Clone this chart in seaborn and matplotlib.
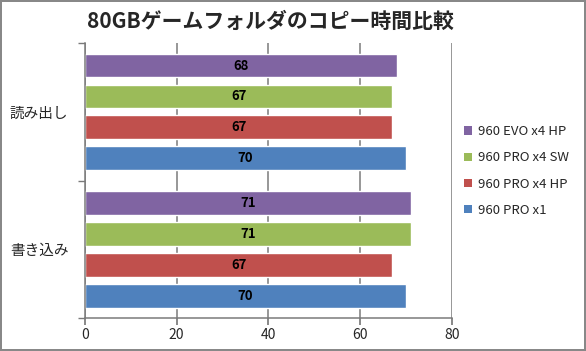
import matplotlib
matplotlib.use("Agg")
import matplotlib.pyplot as plt
import seaborn as sns
import pandas as pd
from matplotlib.patches import Patch

categories = ["読み出し", "書き込み"]
series = ["960 EVO x4 HP", "960 PRO x4 SW", "960 PRO x4 HP", "960 PRO x1"]
values = {
    "960 EVO x4 HP": [68, 71],
    "960 PRO x4 SW": [67, 71],
    "960 PRO x4 HP": [67, 67],
    "960 PRO x1": [70, 70],
}
colors = ["#8064A2", "#9BBB59", "#C0504D", "#4F81BD"]
xticks = [0, 20, 40, 60, 80]

rows = []
for s in series:
    for c, v in zip(categories, values[s]):
        rows.append({"cat": c, "series": s, "value": v})
df = pd.DataFrame(rows)

sns.set_theme(style="white")
plt.rcParams["font.family"] = ["Noto Sans CJK JP", "DejaVu Sans"]

fig = plt.figure(figsize=(5.86, 3.51), dpi=100)
fig.patch.set_edgecolor("#888888")
fig.patch.set_linewidth(1.5)
ax = fig.add_axes([0.145, 0.094, 0.626, 0.783])

sns.barplot(data=df, y="cat", x="value", hue="series", hue_order=series,
            order=categories, palette=colors, orient="h", width=0.9, gap=0.23,
            saturation=1, ax=ax, legend=False)

for cont in ax.containers:
    ax.bar_label(cont, label_type="center", fontsize=9.5, fontweight="bold",
                 color="black")

ax.set_xlim(0, 80)
ax.set_xticks(xticks)
ax.set_ylim(1.5, -0.5)
ax.set_xlabel("")
ax.set_ylabel("")
ax.grid(axis="x", color="#7a7a7a", linewidth=1.1)
ax.set_axisbelow(True)
for sp in ["top", "right"]:
    ax.spines[sp].set_visible(False)
for sp in ["left", "bottom"]:
    ax.spines[sp].set_color("#7a7a7a")
    ax.spines[sp].set_linewidth(1.1)
ax.tick_params(axis="x", length=5, direction="out", color="#7a7a7a",
               labelsize=10, pad=2, bottom=True)
ax.tick_params(axis="y", length=0, labelsize=10.5, pad=12)
ax.set_yticks([-0.5, 0.5, 1.5], minor=True)
ax.tick_params(axis="y", which="minor", length=5, color="#7a7a7a", left=True)

handles = [Patch(facecolor=c, edgecolor="none") for c in colors]
leg = ax.legend(handles, series, loc="center left", bbox_to_anchor=(1.0, 0.535),
                frameon=False, fontsize=9.5, handlelength=0.6, handleheight=0.6,
                labelspacing=1.0, handletextpad=0.5)

fig.suptitle("80GBゲームフォルダのコピー時間比較", fontsize=15,
             fontweight="bold", y=0.968, x=0.462)

fig.savefig("out.png", dpi=100, edgecolor=fig.get_edgecolor())
